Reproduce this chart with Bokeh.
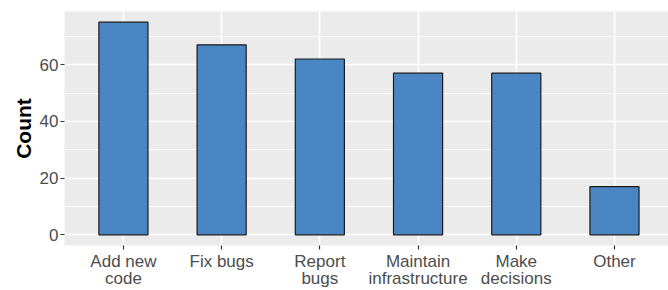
from bokeh.plotting import figure
from bokeh.models import Range1d, FixedTicker
from bokeh.embed import file_html
from bokeh.resources import INLINE

categories = ["Add new\ncode", "Fix bugs", "Report\nbugs", "Maintain\ninfrastructure", "Make\ndecisions", "Other"]
counts = [75, 67, 62, 57, 57, 17]
y_ticks = [0, 20, 40, 60]
y_minor = [10, 30, 50, 70]

xs = list(range(1, len(categories) + 1))

p = figure(width=668, height=290, output_backend="svg", toolbar_location=None,
           x_range=Range1d(0.4, 6.55), y_range=Range1d(-3.75, 78.75),
           min_border_left=64, min_border_top=11, min_border_right=0, min_border_bottom=45)

p.background_fill_color = "#EBEBEB"
p.border_fill_color = "white"
p.outline_line_color = None

p.vbar(x=xs, top=counts, bottom=0, width=0.5, fill_color="#4A86C3",
       line_color="#1A1A1A", line_width=1.2)

font = "Liberation Sans"

p.xaxis.ticker = FixedTicker(ticks=xs)
p.xaxis.major_label_overrides = {x: c for x, c in zip(xs, categories)}
p.yaxis.ticker = FixedTicker(ticks=y_ticks, minor_ticks=y_minor)

for ax in (p.xaxis[0], p.yaxis[0]):
    ax.axis_line_color = None
    ax.major_tick_in = 0
    ax.major_tick_out = 4
    ax.major_tick_line_color = "#333333"
    ax.major_tick_line_width = 1.2
    ax.minor_tick_line_color = None
    ax.major_label_text_font = font
    ax.major_label_text_font_size = "17px"
    ax.major_label_text_color = "#4D4D4D"
    ax.major_label_standoff = 2

p.xaxis.major_label_standoff = 2
p.xaxis.major_label_text_line_height = 0.9

p.yaxis.axis_label = "Count"
p.yaxis.axis_label_text_font = font
p.yaxis.axis_label_text_font_style = "bold"
p.yaxis.axis_label_text_font_size = "21px"
p.yaxis.axis_label_text_color = "black"
p.yaxis.axis_label_standoff = 2

p.xgrid.ticker = FixedTicker(ticks=xs)
p.ygrid.ticker = FixedTicker(ticks=y_ticks, minor_ticks=y_minor)
p.xgrid.grid_line_color = "white"
p.ygrid.grid_line_color = "white"
p.xgrid.grid_line_width = 1.6
p.ygrid.grid_line_width = 1.6
p.ygrid.minor_grid_line_color = "white"
p.ygrid.minor_grid_line_width = 0.8

open("out.html", "w").write(file_html(p, INLINE))
